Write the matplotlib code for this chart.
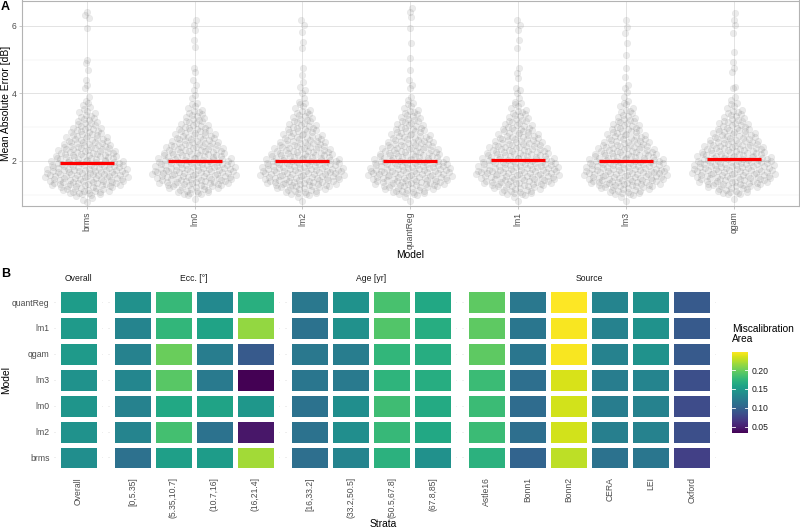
import numpy as np
import matplotlib
matplotlib.use("Agg")
import matplotlib.pyplot as plt
import matplotlib as mpl

plt.rcParams['font.family'] = ['Liberation Sans', 'DejaVu Sans']

# ---------------- Panel A data ----------------
models_a = ['brms', 'lm0', 'lm2', 'quantReg', 'lm1', 'lm3', 'qgam']
bin_lo = [0.75, 1.0, 1.25, 1.5, 1.75, 2.0, 2.25, 2.5, 2.75, 3.0, 3.25, 3.5]
bin_counts = {
    'brms':     [4, 21, 33, 36, 32, 27, 23, 18, 14, 10, 7, 4],
    'lm0':      [1, 17, 31, 35, 33, 28, 24, 19, 15, 11, 8, 5],
    'lm2':      [2, 18, 32, 35, 33, 28, 23, 18, 14, 11, 8, 5],
    'quantReg': [2, 19, 32, 35, 33, 27, 23, 18, 14, 11, 8, 5],
    'lm1':      [2, 17, 30, 35, 33, 28, 24, 19, 15, 11, 8, 5],
    'lm3':      [2, 18, 32, 35, 33, 28, 23, 18, 14, 11, 7, 5],
    'qgam':     [1, 15, 29, 34, 33, 29, 25, 20, 16, 12, 8, 5],
}
tails = {
    'brms':     [6.42, 6.33, 6.23, 5.93, 4.99, 4.89, 4.70, 4.40, 4.25, 4.15, 3.91, 3.78],
    'lm0':      [6.18, 6.03, 5.88, 5.59, 5.39, 4.75, 4.65, 4.40, 4.25, 4.10, 3.96, 3.86],
    'lm2':      [6.18, 6.03, 5.83, 5.53, 5.34, 4.75, 4.55, 4.35, 4.20, 4.10, 4.00, 3.86, 3.76],
    'quantReg': [6.52, 6.42, 6.28, 5.93, 5.49, 5.04, 4.70, 4.40, 4.25, 4.15, 3.91, 3.81],
    'lm1':      [6.18, 6.03, 5.88, 5.59, 5.34, 4.75, 4.60, 4.45, 4.15, 4.10, 4.00, 3.86, 3.76],
    'lm3':      [6.18, 5.98, 5.78, 5.49, 5.14, 4.75, 4.50, 4.25, 4.15, 4.05, 3.91, 3.78],
    'qgam':     [6.38, 6.18, 6.03, 5.78, 5.24, 4.94, 4.75, 4.65, 4.20, 4.15, 3.91, 3.81],
}
medians = [1.93, 1.99, 1.99, 1.99, 2.02, 2.00, 2.05]

# ---------------- Panel B data ----------------
models_b = ['quantReg', 'lm1', 'qgam', 'lm3', 'lm0', 'lm2', 'brms']  # top -> bottom
overall_lbl = ['Overall']
ecc_lbl = ['[0,5.35]', '(5.35,10.7]', '(10.7,16]', '(16,21.4]']
age_lbl = ['[16,33.2]', '(33.2,50.5]', '(50.5,67.8]', '(67.8,85]']
src_lbl = ['Astle16', 'Bonn1', 'Bonn2', 'CERA', 'LEI', 'Oxford']

overall_val = [[0.151], [0.149], [0.149], [0.143], [0.145], [0.143], [0.138]]
ecc_val = [
    [0.141, 0.177, 0.134, 0.169],
    [0.130, 0.175, 0.158, 0.214],
    [0.127, 0.199, 0.123, 0.093],
    [0.132, 0.193, 0.121, 0.032],
    [0.127, 0.162, 0.158, 0.147],
    [0.130, 0.184, 0.114, 0.045],
    [0.112, 0.154, 0.151, 0.219],
]
age_val = [
    [0.119, 0.143, 0.186, 0.162],
    [0.114, 0.141, 0.190, 0.167],
    [0.119, 0.123, 0.175, 0.167],
    [0.117, 0.121, 0.173, 0.167],
    [0.114, 0.138, 0.182, 0.164],
    [0.114, 0.138, 0.177, 0.162],
    [0.110, 0.130, 0.171, 0.141],
]
src_val = [
    [0.195, 0.119, 0.249, 0.130, 0.141, 0.093],
    [0.195, 0.117, 0.247, 0.127, 0.143, 0.093],
    [0.195, 0.117, 0.247, 0.127, 0.143, 0.093],
    [0.180, 0.110, 0.236, 0.123, 0.130, 0.084],
    [0.180, 0.108, 0.234, 0.123, 0.127, 0.082],
    [0.180, 0.110, 0.234, 0.125, 0.127, 0.084],
    [0.171, 0.101, 0.227, 0.114, 0.117, 0.073],
]
cbar_ticks = [0.05, 0.10, 0.15, 0.20]

# ---------------- helpers ----------------
W, H = 800, 528
fig = plt.figure(figsize=(8, 5.28), dpi=100)


def ax_px(l, t, r, b):
    return fig.add_axes([l / W, 1 - b / H, (r - l) / W, (b - t) / H])


def vdc(n, base=2):
    out = np.zeros(n)
    for i in range(1, n + 1):
        v, denom, k = 0.0, 1.0, i
        while k:
            denom *= base
            k, r = divmod(k, base)
            v += r / denom
        out[i - 1] = v
    return out


def expand(counts, tail):
    vals = []
    for lo, c in zip(bin_lo, counts):
        for k in range(c):
            vals.append(lo + (k + 0.5) / c * 0.25)
    vals.extend(tail)
    return np.array(vals)


def quasi_offsets(y, width=0.4, adjust=0.6):
    n = len(y)
    sd = np.std(y, ddof=1)
    iqr = np.subtract(*np.percentile(y, [75, 25]))
    bw = 0.9 * min(sd, iqr / 1.34) * n ** (-0.2) * adjust
    dens = np.exp(-0.5 * ((y[:, None] - y[None, :]) / bw) ** 2).sum(axis=1)
    dens = dens / dens.max()
    order = np.argsort(y, kind='stable')
    ranks = np.empty(n, dtype=int)
    ranks[order] = np.arange(n)
    q = vdc(n)[ranks]
    return (q - 0.5) * 2 * width * dens


# ---------------- Panel A ----------------
axA = ax_px(22, 0.5, 798.5, 206)
yA0 = 2 - (206 - 161) / 33.75
yA1 = 2 + (161 - 0.5) / 33.75
axA.set_ylim(yA0, yA1)
axA.set_xlim(-0.6, len(models_a) - 1 + 0.6)
axA.set_yticks([2, 4, 6])
axA.set_yticks([1, 3, 5], minor=True)
axA.set_xticks(range(len(models_a)))
axA.set_xticklabels(models_a, rotation=90, fontsize=6.2, color='#4d4d4d')
axA.tick_params(axis='y', labelsize=6.2, labelcolor='#4d4d4d')
axA.tick_params(axis='both', which='major', length=2.5, width=0.5, color='#b3b3b3', pad=1.5)
axA.tick_params(axis='y', which='minor', length=0)
axA.grid(True, which='major', color='#dedede', linewidth=0.6)
axA.grid(True, which='minor', axis='y', color='#ededed', linewidth=0.35)
axA.set_axisbelow(True)
for s in axA.spines.values():
    s.set_color('#b3b3b3')
    s.set_linewidth(0.8)

for i, m in enumerate(models_a):
    y = expand(bin_counts[m], tails[m])
    x = i + quasi_offsets(y)
    axA.scatter(x, y, s=22, color='#505050', alpha=0.11, edgecolors='#505050',
                linewidths=0.3, zorder=2)
    axA.plot([i - 0.25, i + 0.25], [medians[i], medians[i]], color='#ff0000',
             linewidth=2.3, solid_capstyle='butt', zorder=3)

fig.text(410 / W, 1 - 255 / H, 'Model', fontsize=7.4, ha='center', va='center')
fig.text(6 / W, 1 - 103 / H, 'Mean Absolute Error [dB]', fontsize=7.4, rotation=90,
         ha='center', va='center')
fig.text(1 / W, 1 - 7 / H, 'A', fontsize=9, fontweight='bold', ha='left', va='center')

# ---------------- Panel B ----------------
vals_all = np.concatenate([np.ravel(overall_val), np.ravel(ecc_val),
                           np.ravel(age_val), np.ravel(src_val)])
norm = mpl.colors.Normalize(vmin=vals_all.min(), vmax=vals_all.max())
cmap = plt.get_cmap('viridis')

facets = [
    ('Overall', overall_lbl, overall_val, 53.7, 102.9),
    ('Ecc. [°]', ecc_lbl, ecc_val, 107.9, 280.0),
    ('Age [yr]', age_lbl, age_val, 285.0, 457.3),
    ('Source', src_lbl, src_val, 462.0, 716.3),
]
top_b, bot_b = 286.5, 473.0
nrow = len(models_b)
for fi, (title, labels, vals, l, r) in enumerate(facets):
    ax = ax_px(l, top_b, r, bot_b)
    arr = np.array(vals)[::-1]  # bottom row first
    ncol = len(labels)
    xe = np.arange(ncol + 1) - 0.5
    ye = np.arange(nrow + 1) - 0.5
    ax.pcolormesh(xe, ye, arr, cmap=cmap, norm=norm, edgecolors='white',
                  linewidth=2.4, zorder=2)
    ax.set_xlim(-0.6, ncol - 1 + 0.6)
    ax.set_ylim(-0.6, nrow - 1 + 0.6)
    ax.set_xticks(range(ncol))
    ax.set_xticklabels(labels, rotation=90, fontsize=6.2, color='#4d4d4d')
    ax.set_yticks(range(nrow))
    if fi == 0:
        ax.set_yticklabels(models_b[::-1], fontsize=6.2, color='#4d4d4d')
    else:
        ax.set_yticklabels([])
    ax.tick_params(axis='both', length=0, pad=3)
    ax.grid(True, color='#ebebeb', linewidth=0.6)
    ax.set_axisbelow(True)
    for s in ax.spines.values():
        s.set_visible(False)
    ax.set_title(title, fontsize=6.2, color='#1a1a1a', pad=4)

fig.text(383 / W, 1 - 524 / H, 'Strata', fontsize=7.4, ha='center', va='center')
fig.text(6 / W, 1 - 380 / H, 'Model', fontsize=7.4, rotation=90, ha='center', va='center')
fig.text(1 / W, 1 - 274 / H, 'B', fontsize=9, fontweight='bold', ha='left', va='center')

# Colorbar
cax = ax_px(731.7, 351.7, 747.7, 433.3)
cb = mpl.colorbar.ColorbarBase(cax, cmap=cmap, norm=norm, orientation='vertical')
cb.outline.set_visible(False)
cb.set_ticks(cbar_ticks)
cb.set_ticklabels([f'{t:.2f}' for t in cbar_ticks])
cax.tick_params(length=0, labelsize=6.2, labelcolor='#1a1a1a', pad=3)
for t in cbar_ticks:
    cax.plot([0, 0.2], [t, t], color='white', linewidth=0.6, transform=cax.get_yaxis_transform())
    cax.plot([0.8, 1.0], [t, t], color='white', linewidth=0.6, transform=cax.get_yaxis_transform())
fig.text(731.7 / W, 1 - 324 / H, 'Miscalibration\nArea', fontsize=7.3, ha='left', va='top',
         linespacing=1.05)

fig.savefig('out.png', dpi=100)
